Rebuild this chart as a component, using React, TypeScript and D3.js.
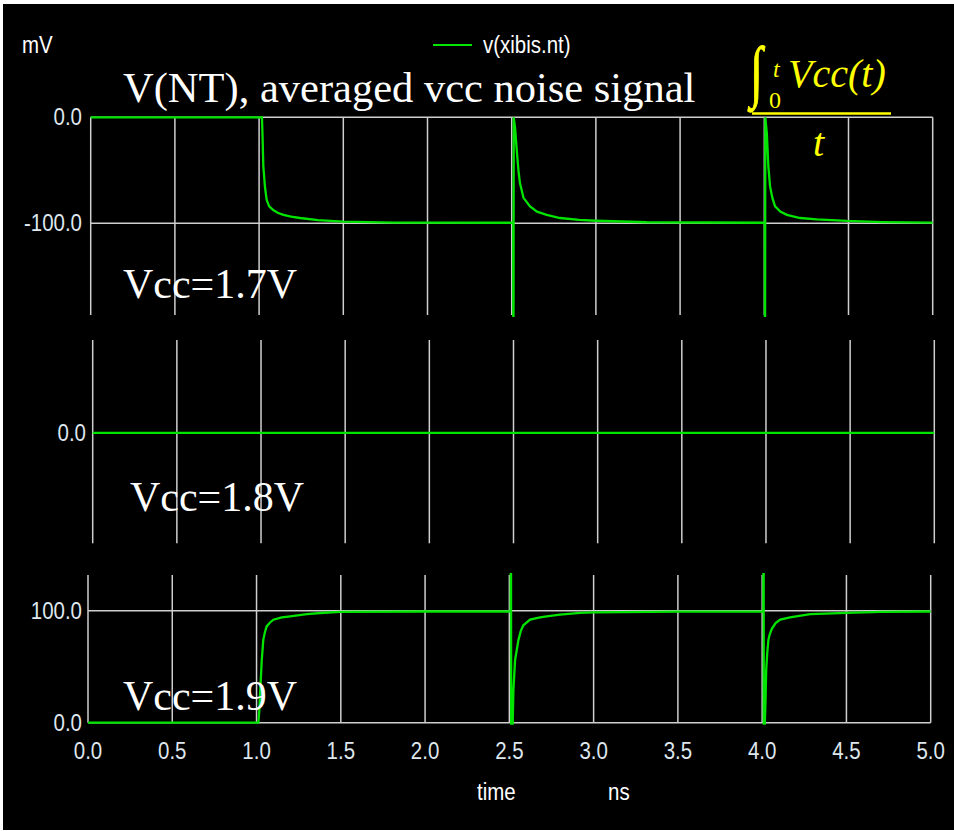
import React from 'react';
import * as d3 from 'd3';

// time axis (ns)
const xTicks = [0, 0.5, 1.0, 1.5, 2.0, 2.5, 3.0, 3.5, 4.0, 4.5, 5.0];

// y ticks per panel (mV)
const ticks17 = [0, -100];
const ticks18 = [0];
const ticks19 = [100, 0];

// v(xibis.nt) traces, [time ns, mV]
const vcc17Trace: [number, number][] = [
  [0, 0], [1.017, 0], [1.02, -15], [1.025, -46], [1.035, -66], [1.045, -78], [1.06, -84],
  [1.084, -87.5], [1.11, -90], [1.144, -92], [1.19, -93.8], [1.243, -95], [1.35, -97],
  [1.498, -98.5], [1.8, -99.3], [2.509, -99.5],
  [2.51, -300], [2.512, 0], [2.52, -10], [2.53, -31], [2.54, -50], [2.549, -62], [2.57, -76],
  [2.609, -84], [2.65, -89], [2.708, -92], [2.787, -95], [2.9, -96.8], [3.0, -97.6],
  [3.3, -99], [4.003, -99.5],
  [4.004, -300], [4.006, 0], [4.015, -15], [4.024, -46], [4.034, -65], [4.048, -76],
  [4.064, -84], [4.095, -89], [4.134, -92], [4.213, -95], [4.312, -96.3], [4.49, -97.8],
  [4.7, -98.8], [5.0, -99.3],
];

const vcc18Trace: [number, number][] = [
  [0, 0], [5.0, 0],
];

const vcc19Trace: [number, number][] = [
  [0, 0], [1.011, 0], [1.016, 10], [1.021, 26], [1.031, 56], [1.04, 74], [1.05, 81],
  [1.06, 86], [1.08, 89.5], [1.1, 92], [1.15, 94], [1.199, 95], [1.298, 97], [1.4, 98.2],
  [1.496, 99], [2.0, 99.3], [2.508, 99.3],
  [2.509, 300], [2.511, -60], [2.52, 0], [2.524, 29], [2.534, 56], [2.554, 74], [2.568, 82],
  [2.583, 87], [2.623, 92], [2.682, 94], [2.722, 95], [2.8, 96.5], [2.92, 98], [3.0, 98.5],
  [3.5, 99.2], [4.007, 99.3],
  [4.008, 300], [4.01, -60], [4.016, 0], [4.02, 20], [4.024, 47], [4.03, 62], [4.037, 74],
  [4.045, 79], [4.058, 84], [4.08, 89], [4.107, 92], [4.166, 94], [4.285, 97], [4.503, 98],
  [4.7, 99], [5.0, 99.3],
];

const panelLabels = ['Vcc=1.7V', 'Vcc=1.8V', 'Vcc=1.9V'];

const GRID = '#cfcfcf';
const TRACE = '#00e400';
const TICK_TEXT = '#dfe7ef';
const SQ = 0.89; // screenshot is a bit narrow horizontally

const panels = [
  { id: 'p1', trace: vcc17Trace, ticks: ticks17, domain: [-186.5, 0], x0: 90.7, x1: 932.7, top: 117.3, bottom: 315, tickRight: 82, label: panelLabels[0], lx: 123, ly: 298 },
  { id: 'p2', trace: vcc18Trace, ticks: ticks18, domain: [-104, 87.5], x0: 92.7, x1: 934.3, top: 340, bottom: 543.3, tickRight: 86, label: panelLabels[1], lx: 130, ly: 511 },
  { id: 'p3', trace: vcc19Trace, ticks: ticks19, domain: [0, 131.9], x0: 88, x1: 930.7, top: 575, bottom: 722.7, tickRight: 82, label: panelLabels[2], lx: 123, ly: 710 },
];

const sans = '"Liberation Sans", Arial, sans-serif';
const serif = '"Liberation Serif", "Times New Roman", serif';

const Panel: React.FC<{ p: typeof panels[number] }> = ({ p }) => {
  const x = d3.scaleLinear().domain([0, 5]).range([p.x0, p.x1]);
  const y = d3.scaleLinear().domain(p.domain).range([p.bottom, p.top]);
  const line = d3.line<[number, number]>().x((d) => x(d[0])).y((d) => y(d[1]));
  return (
    <g>
      <defs>
        <clipPath id={`clip-${p.id}`}>
          <rect x={p.x0 - 2} y={p.top - 2} width={p.x1 - p.x0 + 4} height={p.bottom - p.top + 4} />
        </clipPath>
      </defs>
      {xTicks.map((t) => (
        <line key={'v' + t} x1={x(t)} x2={x(t)} y1={p.top} y2={p.bottom} stroke={GRID} strokeWidth={1.5} />
      ))}
      {p.ticks.map((v) => (
        <line key={'h' + v} x1={p.x0} x2={p.x1} y1={y(v)} y2={y(v)} stroke={GRID} strokeWidth={1.5} />
      ))}
      {p.ticks.map((v) => (
        <text
          key={'l' + v}
          transform={`translate(${p.tickRight},${y(v) + 8}) scale(${SQ},1)`}
          textAnchor="end"
          fontFamily={sans}
          fontSize={23}
          fill={TICK_TEXT}
        >
          {v.toFixed(1)}
        </text>
      ))}
      <path d={line(p.trace) || ''} fill="none" stroke={TRACE} strokeWidth={2.3} clipPath={`url(#clip-${p.id})`} />
      <text x={p.lx} y={p.ly} fontFamily={serif} fontSize={42} fill="#ffffff">
        {p.label}
      </text>
    </g>
  );
};

const App: React.FC = () => {
  const p3 = panels[2];
  const xAxis = d3.scaleLinear().domain([0, 5]).range([p3.x0, p3.x1]);
  const yellow = '#ffff00';
  return (
    <div style={{ position: 'absolute', left: 0, top: 0 }}>
      <svg width={954} height={831} style={{ display: 'block', background: '#ffffff' }}>
        <rect x={3} y={4} width={951} height={826} fill="#000000" />

        {/* header */}
        <text transform={`translate(22,53) scale(${SQ},1)`} fontFamily={sans} fontSize={23} fill="#ffffff">mV</text>
        <line x1={433} x2={472} y1={45} y2={45} stroke={TRACE} strokeWidth={2} />
        <text transform={`translate(483,53) scale(${SQ},1)`} fontFamily={sans} fontSize={23} fill="#ffffff">v(xibis.nt)</text>
        <text x={123} y={102} fontFamily={serif} fontSize={42.5} fill="#ffffff">V(NT), averaged vcc noise signal</text>

        {panels.map((p) => (
          <Panel key={p.id} p={p} />
        ))}

        {/* x axis labels */}
        {xTicks.map((t) => (
          <text
            key={'x' + t}
            transform={`translate(${xAxis(t)},759) scale(${SQ},1)`}
            textAnchor="middle"
            fontFamily={sans}
            fontSize={23}
            fill={TICK_TEXT}
          >
            {t.toFixed(1)}
          </text>
        ))}
        <text transform={`translate(477,800) scale(${SQ},1)`} fontFamily={sans} fontSize={23} fill="#ffffff">time</text>
        <text transform={`translate(608,800) scale(${SQ},1)`} fontFamily={sans} fontSize={23} fill="#ffffff">ns</text>

        {/* formula */}
        <g fill={yellow}>
          <text transform="translate(750,94) scale(1.15,1.7)" fontFamily={serif} fontSize={40} stroke={yellow} strokeWidth={0.6}>∫</text>
          <text x={773} y={77} fontFamily={serif} fontSize={24} fontStyle="italic">t</text>
          <text x={769} y={108} fontFamily={serif} fontSize={24}>0</text>
          <text x={788} y={87} fontFamily={serif} fontSize={40} fontStyle="italic">Vcc(t)</text>
          <text x={813} y={156} fontFamily={serif} fontSize={40} fontStyle="italic">t</text>
        </g>
        <line x1={752} x2={891} y1={113.5} y2={113.5} stroke={yellow} strokeWidth={2.5} />
      </svg>
    </div>
  );
};

export default App;
